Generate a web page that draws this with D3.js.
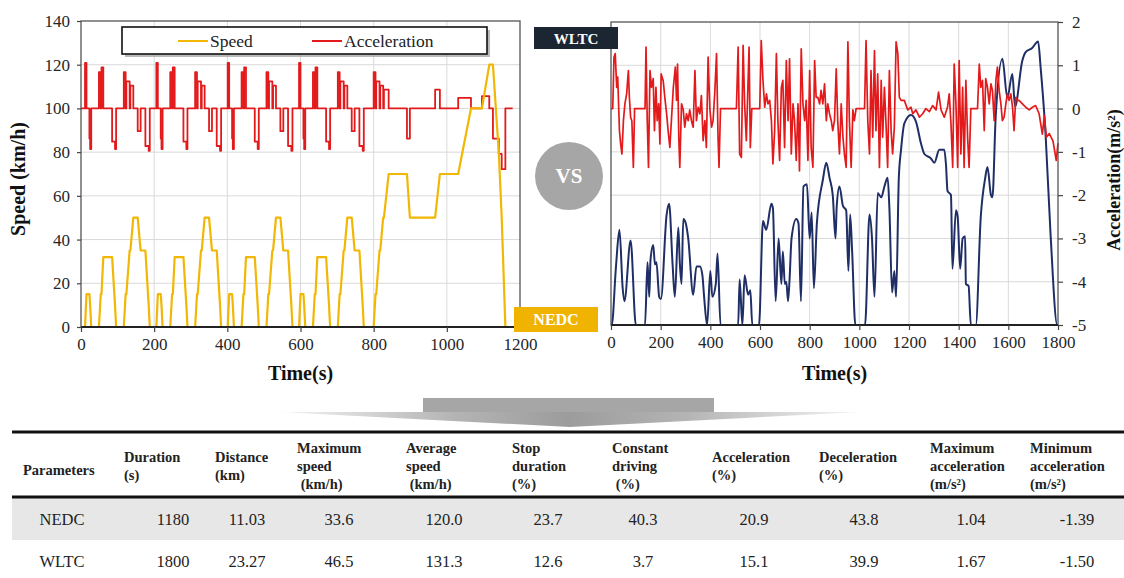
<!DOCTYPE html>
<html>
<head>
<meta charset="utf-8">
<title>NEDC vs WLTC driving cycles</title>
<style>
  body { margin: 0; background: #fff; }
  svg { display: block; }
  text { font-family: 'Liberation Serif', 'Times New Roman', serif; }
</style>
<script src="https://d3js.org/d3.v7.min.js"></script>
</head>
<body>
<div id="chart"></div>
<script>
// ---- data ----
// NEDC speed breakpoints [time s, km/h]
var nedcSpeed = [
  [0,0],[11,0],[15,15],[23,15],[25,10],[28,0],[49,0],[54,15],[56,15],[61,32],[85,32],[93,10],[96,0],[117,0],[122,15],[124,15],[133,35],[135,35],[143,50],[155,50],[163,35],[176,35],[185,10],[188,0],[195,0],
  [206,0],[210,15],[218,15],[220,10],[223,0],[244,0],[249,15],[251,15],[256,32],[280,32],[288,10],[291,0],[312,0],[317,15],[319,15],[328,35],[330,35],[338,50],[350,50],[358,35],[371,35],[380,10],[383,0],[390,0],
  [401,0],[405,15],[413,15],[415,10],[418,0],[439,0],[444,15],[446,15],[451,32],[475,32],[483,10],[486,0],[507,0],[512,15],[514,15],[523,35],[525,35],[533,50],[545,50],[553,35],[566,35],[575,10],[578,0],[585,0],
  [596,0],[600,15],[608,15],[610,10],[613,0],[634,0],[639,15],[641,15],[646,32],[670,32],[678,10],[681,0],[702,0],[707,15],[709,15],[718,35],[720,35],[728,50],[740,50],[748,35],[761,35],[770,10],[773,0],[780,0],
  [800,0],[805,15],[807,15],[816,35],[818,35],[826,50],[828,50],[841,70],[891,70],[899,50],[968,50],[981,70],[1031,70],[1066,100],[1096,100],[1116,120],[1126,120],[1142,80],[1150,50],[1160,0],[1180,0]
];
// NEDC acceleration steps [time s, m/s2] (held until next point)
var nedcAcc = [
  [0,0],[11,1.04],[15,0],[23,-0.69],[25,-0.93],[28,0],[49,0.83],[54,0],[56,0.94],[61,0],[85,-0.76],[93,-0.93],[96,0],[117,0.83],[122,0],[124,0.62],[133,0],[135,0.52],[143,0],[155,-0.52],[163,0],[176,-0.86],[185,-0.97],[188,0],
  [206,1.04],[210,0],[218,-0.69],[220,-0.93],[223,0],[244,0.83],[249,0],[251,0.94],[256,0],[280,-0.76],[288,-0.93],[291,0],[312,0.83],[317,0],[319,0.62],[328,0],[330,0.52],[338,0],[350,-0.52],[358,0],[371,-0.86],[380,-0.97],[383,0],
  [401,1.04],[405,0],[413,-0.69],[415,-0.93],[418,0],[439,0.83],[444,0],[446,0.94],[451,0],[475,-0.76],[483,-0.93],[486,0],[507,0.83],[512,0],[514,0.62],[523,0],[525,0.52],[533,0],[545,-0.52],[553,0],[566,-0.86],[575,-0.97],[578,0],
  [596,1.04],[600,0],[608,-0.69],[610,-0.93],[613,0],[634,0.83],[639,0],[641,0.94],[646,0],[670,-0.76],[678,-0.93],[681,0],[702,0.83],[707,0],[709,0.62],[718,0],[720,0.52],[728,0],[740,-0.52],[748,0],[761,-0.86],[770,-0.97],[773,0],
  [800,0.83],[805,0],[807,0.62],[816,0],[818,0.52],[826,0],[828,0.43],[841,0],[891,-0.69],[899,0],[968,0.43],[981,0],[1031,0.24],[1066,0],[1096,0.28],[1116,0],[1126,-0.69],[1142,-1.04],[1150,-1.39],[1160,0],[1180,0]
];
// WLTC speed [time s, km/h]
var wltcSpeed = [
  [0,0],[3,0],[20,27],[34,44],[47,17],[54,11],[79,39],[100,0],[137,0],[147,29],[154,13],[159,30],[170,37],[177,28],[183,29],[194,13],[201,12],
  [224,51],[234,56],[248,28],[257,13],[271,45],[277,29],[284,19],[291,49],[301,47],[311,40],[331,14],[344,27],[358,27],[368,23],[375,13],[387,0],
  [400,25],[408,13],[422,19],[429,33],[441,0],[512,0],[518,21],[529,0],[538,23],[552,14],[561,16],[569,0],[596,0],[612,48],[625,44],[646,56],[652,54],
  [663,11],[675,40],[686,19],[692,34],[700,19],[706,20],[713,11],[719,21],[727,40],[746,49],[755,47],[765,11],[775,64],[789,65],[800,40],[808,52],
  [817,17],[829,47],[853,67],[867,75],[880,68],[893,60],[904,40],[909,55],[920,64],[934,55],[947,53],[956,25],[963,51],[971,34],[984,0],[1023,0],
  [1041,51],[1051,40],[1061,13],[1074,61],[1088,59],[1101,64],[1114,68],[1121,54],[1132,15],[1141,25],[1148,13],[1159,68],[1168,81],[1181,93],
  [1208,97],[1228,94],[1248,84],[1262,79],[1288,77],[1302,75],[1322,81],[1342,81],[1349,74],[1355,62],[1369,60],[1375,26],[1389,53],[1396,50],
  [1406,26],[1416,40],[1426,41],[1429,19],[1440,18],[1449,0],[1469,0],[1489,50],[1507,68],[1516,73],[1530,60],[1536,59],[1549,96],[1576,123],
  [1596,105],[1616,116],[1627,101],[1656,122],[1669,126],[1696,128],[1720,131],[1730,119],[1750,88],[1770,42],[1797,0],[1800,0]
];
// WLTC acceleration [time s, m/s2]
var wltcAcc = [
  [0,0],[7,0],[12,1.19],[17,1.27],[23,0.49],[27,0.73],[34,-0.51],[39,-0.82],[44,-1.05],[50,-0.28],[56,0.11],[63,0.34],[70,0.88],[74,0.26],[79,-0.2],[84,-0.28],[90,-1.36],[95,0],
  [137,0],[141,1.42],[146,-0.28],[151,-1.36],[157,0.88],[163,0.49],[170,0.69],[175,-0.51],[181,0.49],[186,-0.28],[192,0.11],[197,-0.82],[202,0.8],[210,0.65],[218,0.19],
  [224,-0.12],[230,-0.51],[237,-0.9],[244,-0.2],[251,0.49],[259,0.96],[264,0.19],[268,1.03],[273,-0.66],[277,-1.36],[284,0.11],[291,-0.03],[297,-0.43],[304,-0.12],
  [311,-0.28],[317,-0.03],[324,-0.28],[331,-0.43],[338,0.88],[344,-0.28],[351,0.03],[358,-0.12],[364,0.3],[371,-0.74],[378,-0.28],[384,-0.9],[391,1.19],[398,0],
  [405,-0.43],[411,-0.28],[418,0.38],[425,1.27],[431,-0.66],[435,-1.36],[441,0],[505,0],[512,1.42],[518,-1.05],[525,-1.13],[532,1.46],[538,0.11],[545,-0.74],
  [556,1.42],[561,-0.9],[567,0],[599,0],[605,1.57],[612,0.65],[619,0.03],[626,0.34],[632,0.11],[639,0.19],[646,-0.28],[652,-1.28],[659,-0.51],[666,1.27],
  [672,-0.28],[679,-1.2],[686,0.49],[692,0.65],[699,-0.9],[706,1.11],[713,-0.28],[719,1.15],[726,-1.05],[733,0.11],[739,-0.28],[746,-1.2],[753,0.11],[759,-1.44],
  [766,1.38],[773,0.11],[780,-0.28],[786,0.19],[793,-1.2],[800,0.88],[806,-0.9],[813,-1.36],[820,1.11],[826,0.26],[833,0.26],[840,0.11],[846,0.42],[853,0.11],
  [860,0.57],[867,-0.28],[873,0.11],[880,-0.12],[887,-0.28],[893,-0.51],[900,-0.28],[907,0.92],[913,-0.28],[920,-1.05],[927,0.11],[934,-0.66],[940,-1.05],
  [947,-1.36],[954,1.54],[960,-0.28],[967,-1.36],[974,-0.03],[980,-0.28],[987,0],[1021,0],[1027,1.57],[1034,-0.28],[1041,-1.05],[1047,0.88],[1054,-0.66],
  [1061,1.34],[1067,-0.51],[1074,0.8],[1081,-1.36],[1088,0.65],[1094,-0.66],[1101,0.49],[1108,-0.43],[1114,-1.36],[1121,0.88],[1128,-0.51],[1134,-1.05],
  [1141,-0.43],[1148,1.54],[1155,1.27],[1161,0.26],[1168,0.19],[1181,0.19],[1195,-0.03],[1208,0.03],[1215,-0.12],[1228,-0.03],[1242,-0.2],[1255,-0.12],
  [1268,0],[1282,-0.07],[1295,0.07],[1309,-0.03],[1319,0.38],[1329,-0.03],[1342,-0.2],[1355,0.03],[1362,0.34],[1369,-0.35],[1376,-1.36],[1382,1.03],
  [1389,0.11],[1396,-1.36],[1402,1.11],[1409,-1.05],[1416,0.49],[1422,-1.36],[1429,0.65],[1436,-0.66],[1442,-1.36],[1449,0],[1476,0],[1483,1.03],[1489,0.49],
  [1496,0.65],[1503,-0.51],[1509,0.69],[1516,0.49],[1523,0.11],[1530,0.57],[1536,0.42],[1543,-0.28],[1550,0.65],[1556,0.96],[1563,0.42],[1570,0.11],
  [1576,-0.28],[1583,-0.2],[1590,0.11],[1596,0.34],[1603,0.19],[1610,0.34],[1617,0.03],[1623,-0.51],[1630,0.26],[1637,0.19],[1643,0.19],[1657,0.11],
  [1670,0.03],[1684,-0.03],[1697,0.03],[1710,0.07],[1724,-0.12],[1737,-0.59],[1745,-0.16],[1753,-0.66],[1765,-0.58],[1780,-0.75],[1793,-1.2],[1800,-0.8]
];

var speedTicks = [0, 20, 40, 60, 80, 100, 120, 140];
var accTicks = [-5, -4, -3, -2, -1, 0, 1, 2];
var nedcTimeTicks = [0, 200, 400, 600, 800, 1000, 1200];
var wltcTimeTicks = [0, 200, 400, 600, 800, 1000, 1200, 1400, 1600, 1800];
var legendLabels = ["Speed", "Acceleration"];

var tableHeaders = [
  ["Parameters"], ["Duration", "(s)"], ["Distance", "(km)"], ["Maximum", "speed", "\u00a0(km/h)"],
  ["Average", "speed", "\u00a0(km/h)"], ["Stop", "duration", "(%)"], ["Constant", "driving", "\u00a0(%)"],
  ["Acceleration", "(%)"], ["Deceleration", "(%)"], ["Maximum", "acceleration", "(m/s\u00b2)"],
  ["Minimum", "acceleration", "(m/s\u00b2)"]
];
var cycleNames = ["NEDC", "WLTC"];
var nedcRow = ["1180", "11.03", "33.6", "120.0", "23.7", "40.3", "20.9", "43.8", "1.04", "-1.39"];
var wltcRow = ["1800", "23.27", "46.5", "131.3", "12.6", "3.7", "15.1", "39.9", "1.67", "-1.50"];

var speedColor = "#f2b705", accColor = "#e31a1c", wltcColor = "#1f2f66", gridColor = "#d9d9d9";
var serif = "'Liberation Serif', 'Times New Roman', serif";

var svg = d3.select("#chart").append("svg")
    .attr("width", 1124)
    .attr("height", 578);

var defs = svg.append("defs");
var grad = defs.append("linearGradient").attr("id", "arrowGrad")
    .attr("gradientUnits", "userSpaceOnUse").attr("x1", 280).attr("x2", 860).attr("y1", 0).attr("y2", 0);
grad.append("stop").attr("offset", "0%").attr("stop-color", "#f4f4f4");
grad.append("stop").attr("offset", "30%").attr("stop-color", "#b4b4b4");
grad.append("stop").attr("offset", "50%").attr("stop-color", "#9c9c9c");
grad.append("stop").attr("offset", "70%").attr("stop-color", "#b4b4b4");
grad.append("stop").attr("offset", "100%").attr("stop-color", "#f4f4f4");

// one panel: time axis at bottom, speed/acc share the same vertical range
function drawPanel(opt) {
    var x = d3.scaleLinear().domain(opt.xDomain).range([opt.left, opt.right]);
    var ySpeed = d3.scaleLinear().domain([0, 140]).range([opt.bottom, opt.top]);
    var yAcc = d3.scaleLinear().domain([-5, 2]).range([opt.bottom, opt.top]);
    var g = svg.append("g");

    // grid
    g.selectAll(".vg").data(opt.xTicks.slice(1, -1)).enter().append("line")
        .attr("x1", d => x(d)).attr("x2", d => x(d))
        .attr("y1", opt.top).attr("y2", opt.bottom)
        .attr("stroke", gridColor).attr("stroke-width", 1);
    var hTicks = opt.gridFromAcc ? accTicks.slice(1, -1).map(d => yAcc(d)) : speedTicks.slice(1, -1).map(d => ySpeed(d));
    g.selectAll(".hg").data(hTicks).enter().append("line")
        .attr("x1", opt.left).attr("x2", opt.right)
        .attr("y1", d => d).attr("y2", d => d)
        .attr("stroke", gridColor).attr("stroke-width", 1);

    // lines
    opt.series.forEach(function(s) {
        var yS = s.acc ? yAcc : ySpeed;
        var line = d3.line().x(d => x(d[0])).y(d => yS(d[1]));
        if (s.curve) line.curve(s.curve);
        g.append("path").datum(s.data)
            .attr("d", line)
            .attr("fill", "none")
            .attr("stroke", s.color)
            .attr("stroke-width", s.width)
            .attr("stroke-linejoin", "round");
    });

    // frame
    g.append("rect")
        .attr("x", opt.left).attr("y", opt.top)
        .attr("width", opt.right - opt.left).attr("height", opt.bottom - opt.top)
        .attr("fill", "none").attr("stroke", "#555").attr("stroke-width", 1.3);
    g.append("line")
        .attr("x1", opt.left).attr("x2", opt.right)
        .attr("y1", opt.bottom).attr("y2", opt.bottom)
        .attr("stroke", "#222").attr("stroke-width", 2);

    // axes
    var xAxis = g.append("g").attr("transform", "translate(0," + opt.bottom + ")")
        .call(d3.axisBottom(x).tickValues(opt.xTicks).tickSize(5).tickPadding(6).tickFormat(d3.format("d")));
    styleAxis(xAxis);

    if (opt.leftAxis) {
        var yAxis = g.append("g").attr("transform", "translate(" + opt.left + ",0)")
            .call(d3.axisLeft(ySpeed).tickValues(speedTicks).tickSize(4).tickPadding(7));
        styleAxis(yAxis);
    }
    if (opt.rightAxis) {
        var aAxis = g.append("g").attr("transform", "translate(" + opt.right + ",0)")
            .call(d3.axisRight(yAcc).tickValues(accTicks).tickSize(5).tickPadding(9).tickFormat(d => String(d)));
        styleAxis(aAxis);
    }

    svg.append("text")
        .attr("x", (opt.left + opt.right) / 2).attr("y", 380)
        .attr("text-anchor", "middle")
        .attr("font-size", 20).attr("font-weight", "bold").attr("fill", "#111")
        .text("Time(s)");
    return { x: x, ySpeed: ySpeed, yAcc: yAcc };
}

function styleAxis(sel) {
    sel.attr("font-family", serif);
    sel.select(".domain").remove();
    sel.selectAll(".tick line").attr("stroke", "#444").attr("stroke-width", 1.2);
    sel.selectAll(".tick text")
        .attr("font-size", 17)
        .attr("fill", "#262626")
        .style("font-family", serif);
}

drawPanel({
    xDomain: [0, 1200], left: 81, right: 520, top: 21, bottom: 327,
    xTicks: nedcTimeTicks, leftAxis: true, rightAxis: false, gridFromAcc: false,
    series: [
        { data: nedcAcc, acc: true, curve: d3.curveStepAfter, color: accColor, width: 1.8 },
        { data: nedcSpeed, acc: false, curve: null, color: speedColor, width: 2.2 }
    ]
});

drawPanel({
    xDomain: [0, 1800], left: 611, right: 1058, top: 22, bottom: 325,
    xTicks: wltcTimeTicks, leftAxis: false, rightAxis: true, gridFromAcc: true,
    series: [
        { data: wltcSpeed, acc: false, curve: d3.curveMonotoneX, color: wltcColor, width: 2 },
        { data: wltcAcc, acc: true, curve: null, color: accColor, width: 1.7 }
    ]
});

// axis titles
svg.append("text")
    .attr("transform", "translate(25,179) rotate(-90)")
    .attr("text-anchor", "middle")
    .attr("font-size", 20).attr("font-weight", "bold").attr("fill", "#111")
    .text("Speed (km/h)");
svg.append("text")
    .attr("transform", "translate(1120,180) rotate(-90)")
    .attr("text-anchor", "middle")
    .attr("font-size", 18).attr("font-weight", "bold").attr("fill", "#111")
    .text("Acceleration(m/s\u00b2)");

// legend
var lg = svg.append("g");
lg.append("rect").attr("x", 125).attr("y", 30).attr("width", 365).attr("height", 27)
    .attr("fill", "#8c8c8c").attr("opacity", 0.6);
lg.append("rect").attr("x", 122).attr("y", 27).attr("width", 365).attr("height", 27)
    .attr("fill", "#fff").attr("stroke", "#111").attr("stroke-width", 1.6);
var legendX = [178, 312];
var legendColors = [speedColor, accColor];
legendLabels.forEach(function(lab, i) {
    lg.append("line").attr("x1", legendX[i]).attr("x2", legendX[i] + 30)
        .attr("y1", 41).attr("y2", 41)
        .attr("stroke", legendColors[i]).attr("stroke-width", 2);
    lg.append("text").attr("x", legendX[i] + 32).attr("y", 47)
        .attr("font-size", 17.5).attr("fill", "#222").text(lab);
});

// cycle tags and VS badge
svg.append("rect").attr("x", 534).attr("y", 27).attr("width", 84).attr("height", 22).attr("fill", "#1c2633");
svg.append("text").attr("x", 576).attr("y", 43.5).attr("text-anchor", "middle")
    .attr("font-size", 15).attr("font-weight", "bold").attr("fill", "#fff").text(cycleNames[1]);
svg.append("rect").attr("x", 514).attr("y", 307).attr("width", 84).attr("height", 25).attr("fill", "#f0b400");
svg.append("text").attr("x", 556).attr("y", 325).attr("text-anchor", "middle")
    .attr("font-size", 16).attr("font-weight", "bold").attr("fill", "#fff").text(cycleNames[0]);
svg.append("circle").attr("cx", 569).attr("cy", 176).attr("r", 34).attr("fill", "#a6a6a6");
svg.append("text").attr("x", 569).attr("y", 183).attr("text-anchor", "middle")
    .attr("font-size", 21).attr("font-weight", "bold").attr("fill", "#fff").text("VS");

// arrow down to the table
svg.append("path")
    .attr("d", "M280,412 L860,412 L570,427 Z")
    .attr("fill", "url(#arrowGrad)");
svg.append("rect").attr("x", 423).attr("y", 398).attr("width", 291).attr("height", 14).attr("fill", "#a6a6a6");

// table
var headerX = [23, 124, 215, 297, 406, 512, 612, 712, 819, 930, 1030];
var valueX = [62, 173, 247, 339, 444, 548, 643, 754, 864, 971, 1077];
var tg = svg.append("g");
tg.append("rect").attr("x", 12).attr("y", 498).attr("width", 1112).attr("height", 42).attr("fill", "#e7e7e7");
tg.append("line").attr("x1", 12).attr("x2", 1124).attr("y1", 432).attr("y2", 432).attr("stroke", "#111").attr("stroke-width", 3);
tg.append("line").attr("x1", 12).attr("x2", 1124).attr("y1", 497).attr("y2", 497).attr("stroke", "#111").attr("stroke-width", 3);

tableHeaders.forEach(function(lines, i) {
    var startY = lines.length === 3 ? 448 : (lines.length === 2 ? 457 : 470);
    var t = tg.append("text").attr("font-size", 14.5).attr("font-weight", "bold").attr("fill", "#222");
    lines.forEach(function(l, j) {
        t.append("tspan").attr("x", headerX[i]).attr("y", startY + j * 18 + 5).text(l);
    });
});

[[cycleNames[0]].concat(nedcRow), [cycleNames[1]].concat(wltcRow)].forEach(function(row, r) {
    var y = r === 0 ? 525 : 567;
    row.forEach(function(v, i) {
        tg.append("text").attr("x", valueX[i]).attr("y", y)
            .attr("text-anchor", "middle")
            .attr("font-size", 16.5).attr("fill", "#222")
            .text(v);
    });
});
</script>
</body>
</html>
